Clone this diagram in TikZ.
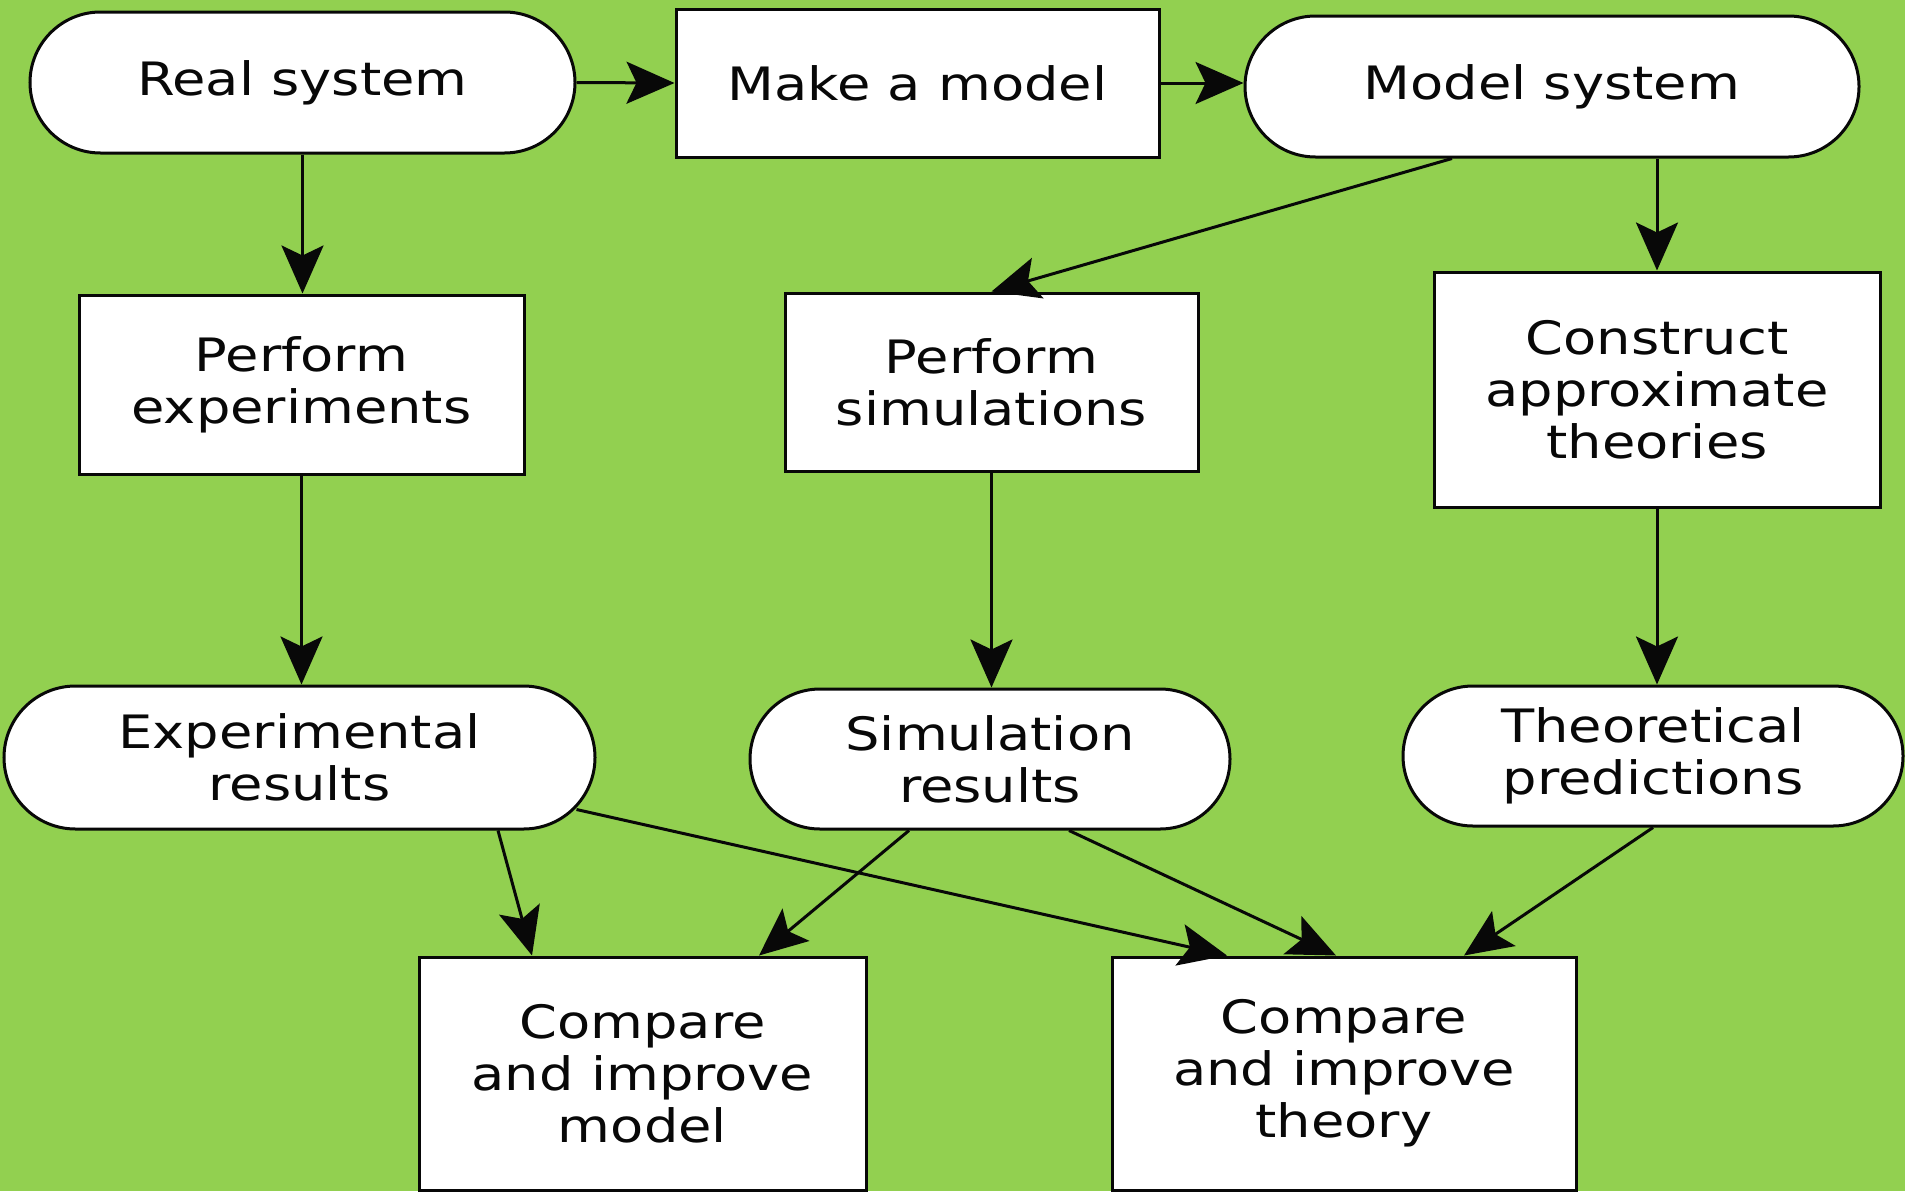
\documentclass[tikz,border=0pt]{standalone}
\usepackage{fontspec}
\setmainfont{DejaVu Sans}[FakeStretch=1.18]
\usetikzlibrary{shapes.misc,arrows.meta,calc}
\definecolor{bggreen}{RGB}{146,208,80}
\definecolor{ink}{RGB}{8,8,8}
\begin{document}
\begin{tikzpicture}[x=1pt,y=-1pt,
  box/.style={draw=ink, line width=3pt, fill=white, rectangle, align=center, inner sep=0pt, text=ink, font=\fontsize{46}{52}\selectfont},
  pill/.style={box, rounded rectangle},
  arr/.style={draw=ink, line width=3pt, -{Stealth[length=48pt,width=42pt,inset=10pt]}}
]
\useasboundingbox (0,0) rectangle (1905,1191);
\fill[bggreen] (0,0) rectangle (1905,1191);

\node[pill, minimum width=545pt, minimum height=141pt] (real) at (302.5,82.5) {Real system};
\node[box, minimum width=483pt, minimum height=148pt] (make) at (917.5,83) {Make a model};
\node[pill, minimum width=614pt, minimum height=141pt] (modelsys) at (1552,86.5) {Model system};
\node[box, minimum width=445pt, minimum height=179pt] (perfexp) at (301.5,384.5) {Perform\\experiments};
\node[box, minimum width=413pt, minimum height=178pt] (perfsim) at (991.5,382) {Perform\\simulations};
\node[box, minimum width=446pt, minimum height=235pt] (construct) at (1657,389.5) {Construct\\approximate\\theories};
\node[pill, minimum width=591pt, minimum height=143pt] (expres) at (299.5,757.5) {Experimental\\results};
\node[pill, minimum width=480pt, minimum height=140pt] (simres) at (990,759) {Simulation\\results};
\node[pill, minimum width=500pt, minimum height=140pt] (theopred) at (1653,756) {Theoretical\\predictions};
\node[box, minimum width=447pt, minimum height=233pt] (cmpmodel) at (642.5,1073.5) {Compare\\and improve\\model};
\node[box, minimum width=464pt, minimum height=233pt] (cmptheory) at (1344,1073.5) {Compare\\and improve\\theory};

\draw[arr] (real.east) -- (make.west);
\draw[arr] (make.east) -- (make.east -| modelsys.west);
\draw[arr] (real.south) -- (real.south |- perfexp.north);
\draw[arr] ([xshift=-100pt]modelsys.south) -- (perfsim.north);
\draw[arr] (construct.north |- modelsys.south) -- (construct.north);
\draw[arr] (perfexp.south) -- (perfexp.south |- expres.north);
\draw[arr] (perfsim.south) -- (perfsim.south |- simres.north);
\draw[arr] (construct.south) -- (construct.south |- theopred.north);
\draw[arr] ([xshift=198.5pt]expres.south) -- ([xshift=-110.5pt]cmpmodel.north);
\draw[arr] ([xshift=277pt,yshift=-52pt]expres.center) -- ([xshift=-117pt]cmptheory.north);
\draw[arr] ([xshift=-81pt]simres.south) -- ([xshift=116.5pt]cmpmodel.north);
\draw[arr] ([xshift=79pt]simres.south) -- ([xshift=-8pt]cmptheory.north);
\draw[arr] (theopred.south) -- ([xshift=120pt]cmptheory.north);
\end{tikzpicture}
\end{document}
